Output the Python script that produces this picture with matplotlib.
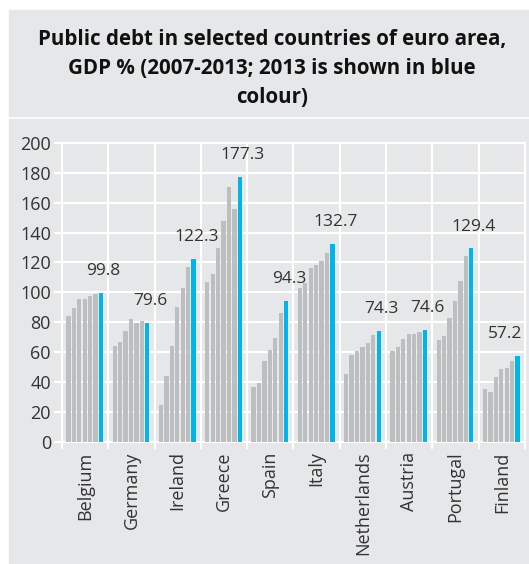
import matplotlib
matplotlib.use("Agg")
from matplotlib import pyplot as plt
from matplotlib.patches import Rectangle

countries = ["Belgium", "Germany", "Ireland", "Greece", "Spain",
             "Italy", "Netherlands", "Austria", "Portugal", "Finland"]
years = [2007, 2008, 2009, 2010, 2011, 2012, 2013]

debt = {
    "Belgium":     [84.0, 89.2, 95.7, 95.5, 97.8, 99.0, 99.8],
    "Germany":     [64.4, 66.6, 74.4, 82.0, 79.8, 80.7, 79.6],
    "Ireland":     [24.6, 44.0, 64.4, 90.5, 103.2, 117.3, 122.3],
    "Greece":      [106.6, 112.2, 129.6, 147.9, 170.3, 156.0, 177.3],
    "Spain":       [36.4, 39.6, 53.9, 61.2, 69.7, 86.3, 94.3],
    "Italy":       [103.0, 106.1, 116.6, 118.4, 120.9, 126.3, 132.7],
    "Netherlands": [45.1, 58.1, 60.6, 63.7, 65.9, 71.3, 74.3],
    "Austria":     [60.6, 63.5, 69.1, 72.4, 72.4, 73.3, 74.6],
    "Portugal":    [67.9, 71.1, 82.9, 93.9, 107.9, 124.2, 129.4],
    "Finland":     [35.5, 33.1, 43.1, 48.5, 49.6, 53.9, 57.2],
}

grey = "#bdbebf"
blue = "#00b5ea"
panel = "#e6e7e8"
txt = "#333333"

plt.rcParams["font.family"] = ["Open Sans", "DejaVu Sans"]

fig = plt.figure(figsize=(5.29, 5.64), dpi=100)
fig.patches.append(Rectangle((9 / 529, 448 / 564), 520 / 529, 106 / 564,
                             transform=fig.transFigure, color=panel, zorder=-5))
fig.patches.append(Rectangle((9 / 529, 1 / 564), 520 / 529, 444 / 564,
                             transform=fig.transFigure, color=panel, zorder=-5))

fig.text(0.514, 0.878, "Public debt in selected countries of euro area,\n"
         "GDP % (2007-2013; 2013 is shown in blue\ncolour)",
         ha="center", va="center", fontsize=14.8, fontweight="bold",
         color="#111111", linespacing=1.5)

ax = fig.add_axes([0.1172, 0.2168, 0.8752, 0.5297])
ax.set_zorder(2)
ax.set_facecolor(panel)

slot = 0.117
width = 0.093
start = 0.08
for i, c in enumerate(countries):
    vals = debt[c]
    for j, v in enumerate(vals):
        x = i + start + (j + 0.5) * slot
        ax.bar(x, v, width=width, color=blue if j == len(vals) - 1 else grey,
               zorder=3)
    xb = i + start + (len(vals) - 0.5) * slot
    dx = -9 if c == "Finland" else 2
    ax.annotate(f"{vals[-1]:.1f}", (xb, vals[-1]), xytext=(dx, 10),
                textcoords="offset points", ha="center", va="bottom",
                fontsize=12.5, color=txt)

ax.set_xlim(0, 10)
ax.set_ylim(0, 200)
ax.set_yticks(range(0, 201, 20))
ax.set_xticks(range(0, 11), minor=True)
ax.set_xticks([i + 0.5 for i in range(10)])
ax.set_xticklabels(countries, rotation=90, fontsize=13, color=txt)
ax.tick_params(axis="x", which="major", length=0, pad=7)
ax.tick_params(axis="x", which="minor", length=5, width=1.5, color="white")
ax.tick_params(axis="y", length=6, width=1.5, color="white", labelsize=13,
               labelcolor=txt, pad=2)
ax.grid(True, which="minor", axis="x", color="white", lw=1.5, zorder=1)
ax.grid(True, which="major", axis="y", color="white", lw=1.5, zorder=1)
ax.set_axisbelow(True)
for s in ax.spines.values():
    s.set_color("white")
    s.set_linewidth(1.5)

fig.savefig("out.png", dpi=100)
